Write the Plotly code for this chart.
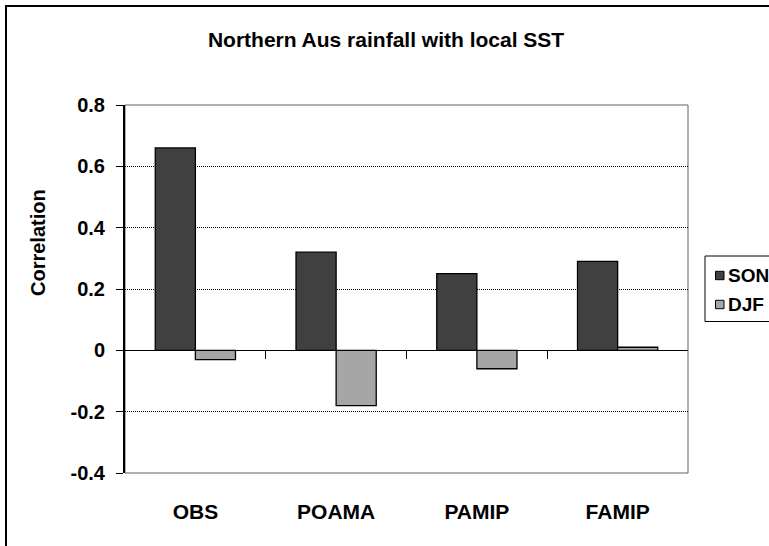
import plotly.graph_objects as go

# Correlation of northern Australian rainfall with local SST
categories = ["OBS", "POAMA", "PAMIP", "FAMIP"]
son_values = [0.66, 0.32, 0.25, 0.29]
djf_values = [-0.03, -0.18, -0.06, 0.01]
y_ticks = [-0.4, -0.2, 0, 0.2, 0.4, 0.6, 0.8]
y_tick_labels = ["-0.4", "-0.2", "0", "0.2", "0.4", "0.6", "0.8"]
series_names = ["SON", "DJF"]
series_colors = ["#404040", "#a6a6a6"]

FONT = "Liberation Sans, Arial, sans-serif"

W, H = 769, 546
L, R, T, B = 125, 81, 105, 73
pw, ph = W - L - R, H - T - B


def px_to_paper_x(px):
    return (px - L) / pw


def px_to_paper_y(py):
    return (H - B - py) / ph


fig = go.Figure()
for name, vals, col in zip(series_names, [son_values, djf_values], series_colors):
    fig.add_trace(go.Bar(
        name=name, x=categories, y=vals, showlegend=False,
        marker=dict(color=col, line=dict(color="black", width=1.3)),
    ))

# overlay axis that draws the zero line with tick marks between categories
fig.add_trace(go.Scatter(x=[], y=[], xaxis="x2", showlegend=False))

shapes = [
    # plot area frame
    dict(type="rect", xref="paper", yref="paper", x0=0, x1=1, y0=0, y1=1,
         line=dict(color="#606060", width=1), layer="below"),
    # legend frame
    dict(type="rect", xref="paper", yref="paper",
         x0=px_to_paper_x(705), x1=px_to_paper_x(820),
         y0=px_to_paper_y(321.5), y1=px_to_paper_y(256),
         line=dict(color="black", width=1), layer="below"),
    # outer chart frame
    dict(type="rect", xref="paper", yref="paper",
         x0=px_to_paper_x(6), x1=px_to_paper_x(800),
         y0=px_to_paper_y(600), y1=px_to_paper_y(6),
         line=dict(color="black", width=2)),
]
annotations = [
    dict(text="Correlation", textangle=-90, showarrow=False,
         xref="paper", yref="paper", x=px_to_paper_x(38), y=px_to_paper_y(243),
         xanchor="center", yanchor="middle",
         font=dict(family=FONT, size=20, weight="bold", color="black")),
]

# legend entries: key square plus label
for i, (name, col) in enumerate(zip(series_names, series_colors)):
    cy = 275.5 + 29 * i
    shapes.append(dict(
        type="rect", xref="paper", yref="paper",
        x0=px_to_paper_x(715.5), x1=px_to_paper_x(724),
        y0=px_to_paper_y(cy + 4.2), y1=px_to_paper_y(cy - 4.2),
        fillcolor=col, line=dict(color="black", width=1),
    ))
    annotations.append(dict(
        text=name, showarrow=False, xref="paper", yref="paper",
        x=px_to_paper_x(726), y=px_to_paper_y(cy),
        xanchor="left", yanchor="middle",
        font=dict(family=FONT, size=19, weight="bold", color="black"),
    ))

fig.update_layout(
    width=W, height=H,
    margin=dict(l=L, r=R, t=T, b=B, autoexpand=False),
    paper_bgcolor="white", plot_bgcolor="white",
    font=dict(family=FONT, size=20, color="black", weight="bold"),
    barmode="group", bargap=0.43, bargroupgap=0,
    showlegend=False,
    title=dict(
        text="Northern Aus rainfall with local SST",
        font=dict(family=FONT, size=21, color="black", weight="bold"),
        x=0.502, xref="container", xanchor="center",
        y=1 - 40 / H, yref="container", yanchor="middle",
    ),
    xaxis=dict(
        type="category", showline=False, showgrid=False, ticks="",
        tickfont=dict(family=FONT, size=21, weight="bold"),
        ticklabelstandoff=24, zeroline=False,
    ),
    xaxis2=dict(
        overlaying="x", anchor="free", position=0.4 / 1.2,
        type="linear", range=[-0.5, 3.5], tickvals=[0.5, 1.5, 2.5],
        ticks="outside", ticklen=8, tickwidth=1, tickcolor="black",
        showticklabels=False, showline=True, linecolor="black", linewidth=1,
        showgrid=False, zeroline=False,
    ),
    yaxis=dict(
        range=[-0.4, 0.8], tickvals=y_ticks, ticktext=y_tick_labels,
        ticks="outside", ticklen=7, tickwidth=1, tickcolor="black",
        showline=True, linecolor="black", linewidth=2,
        showgrid=True, gridcolor="black", gridwidth=1, griddash="1px,1px",
        zeroline=False, ticklabelstandoff=7,
        tickfont=dict(family=FONT, size=20, weight="bold"),
    ),
    shapes=shapes,
    annotations=annotations,
)

fig.write_html("out.html")
